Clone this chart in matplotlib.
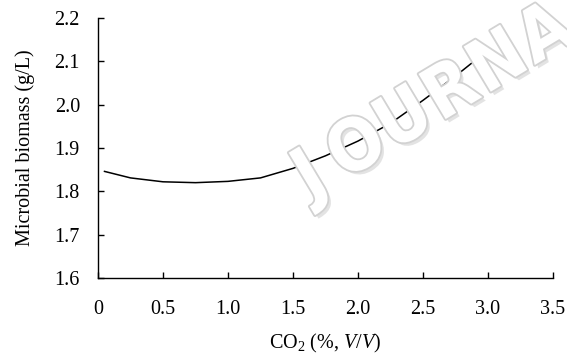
import matplotlib
matplotlib.use("Agg")
import matplotlib.pyplot as plt
import matplotlib.patheffects as pe
import numpy as np

co2 = [0.05, 0.25, 0.5, 0.75, 1.0, 1.25, 1.5, 1.75, 2.0, 2.25, 2.5, 2.75, 3.0]
biomass = [1.846, 1.831, 1.822, 1.820, 1.823, 1.831, 1.853, 1.882, 1.916, 1.957, 2.010, 2.066, 2.126]
xticks = [0, 0.5, 1.0, 1.5, 2.0, 2.5, 3.0, 3.5]
xticklabels = ["0", "0.5", "1.0", "1.5", "2.0", "2.5", "3.0", "3.5"]
yticks = [1.6, 1.7, 1.8, 1.9, 2.0, 2.1, 2.2]
yticklabels = ["1.6", "1.7", "1.8", "1.9", "2.0", "2.1", "2.2"]

plt.rcParams['font.family'] = ['Liberation Serif', 'DejaVu Serif']
plt.rcParams['mathtext.fontset'] = 'custom'
plt.rcParams['mathtext.rm'] = 'Liberation Serif'
plt.rcParams['mathtext.it'] = 'Liberation Serif:italic'

W, H = 567, 355
fig = plt.figure(figsize=(W/100, H/100), dpi=100)
ax = fig.add_axes([98/W, 1-278/H, (553-98)/W, (278-18)/H])

# watermark (visible part)
wm = "JOURNA"
x0, y0 = 311, 178
dx, dy = 47, -28.5
for i, ch in enumerate(wm):
    px = x0 + i*dx
    py = y0 + i*dy
    fig.text(px/W, 1-py/H, ch, fontsize=52, family='DejaVu Sans', weight='bold',
             stretch='condensed', color='white', rotation=31, ha='center', va='center',
             zorder=0,
             path_effects=[pe.SimplePatchShadow(offset=(2.5, -2.5), shadow_rgbFace='#d8d8d8', alpha=0.7),
                           pe.Stroke(linewidth=2.6, foreground='#d2d2d2'), pe.Normal()])

ax.patch.set_alpha(0)
ax.plot(co2, biomass, color='black', lw=1.1, zorder=3)

ax.set_xlim(0, 3.5)
ax.set_ylim(1.6, 2.2)
ax.set_xticks(xticks)
ax.set_xticklabels(xticklabels)
ax.set_yticks(yticks)
ax.set_yticklabels(yticklabels)
ax.spines['top'].set_visible(False)
ax.spines['right'].set_visible(False)
for s in ['left', 'bottom']:
    ax.spines[s].set_linewidth(1.0)
ax.tick_params(direction='in', length=4, width=1.0, labelsize=14.5)
ax.tick_params(axis='x', pad=16)
ax.tick_params(axis='y', pad=13)

ax.set_xlabel(r"CO$_2$ (%, $V$/$V$)", fontsize=14.5, labelpad=9)
ax.set_ylabel("Microbial biomass (g/L)", fontsize=14.5, labelpad=14)

fig.savefig("out.png", dpi=100)
